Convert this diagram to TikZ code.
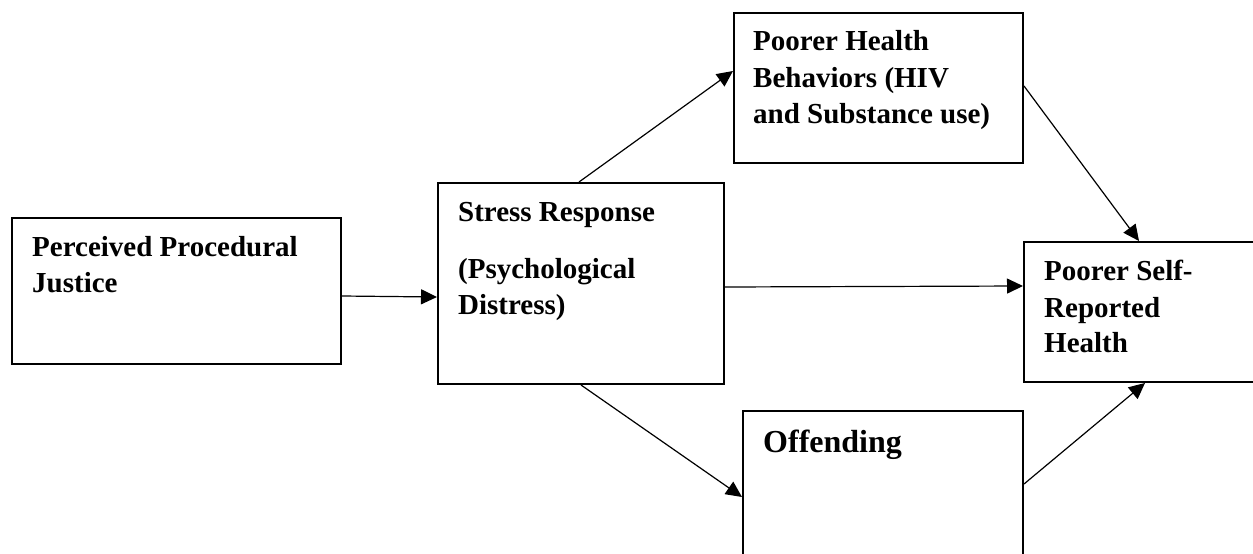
\documentclass[tikz,border=0pt]{standalone}
\usepackage{fontspec}
\setmainfont{Liberation Serif}
\usetikzlibrary{arrows.meta,calc}
\tikzset{
  boxnode/.style={draw=black, line width=2pt, inner sep=0pt, rectangle},
  txt/.style={anchor=base west, inner sep=0pt, font=\fontsize{29}{35}\selectfont\bfseries},
  bigtxt/.style={anchor=base west, inner sep=0pt, font=\fontsize{32}{38}\selectfont\bfseries},
  arr/.style={line width=1.2pt, -{Triangle[length=16pt,width=15pt]}}
}
\begin{document}
\begin{tikzpicture}[x=1pt,y=1pt]
\useasboundingbox (0,0) rectangle (1253,-554);
\fill[white] (0,0) rectangle (1253,-554);
% boxes
\node[boxnode, minimum width=329pt, minimum height=146pt] (b1) at (176.5,-291) {};
\node[boxnode, minimum width=286pt, minimum height=201pt] (b2) at (581,-283.5) {};
\node[boxnode, minimum width=289pt, minimum height=150pt] (b3) at (878.5,-88) {};
\node[boxnode, minimum width=238pt, minimum height=140pt] (b4) at (1143,-312) {};
\node[boxnode, minimum width=280pt, minimum height=159pt] (b5) at (883,-490.5) {};
% texts
\node[txt] (t1a) at (32,-256) {Perceived Procedural};
\node[txt] (t1b) at (32,-292) {Justice};
\node[txt] (t2a) at (458,-221) {Stress Response};
\node[txt] (t2b) at (458,-278) {(Psychological};
\node[txt] (t2c) at (458,-314) {Distress)};
\node[txt] (t3a) at (753,-50) {Poorer Health};
\node[txt] (t3b) at (753,-87) {Behaviors (HIV};
\node[txt] (t3c) at (753,-123) {and Substance use)};
\node[txt] (t4a) at (1044,-280) {Poorer Self-};
\node[txt] (t4b) at (1044,-317) {Reported};
\node[txt] (t4c) at (1044,-352) {Health};
\node[bigtxt] (t5a) at (763,-452) {Offending};
% connectors
\draw[arr] ([yshift=-5pt]b1.east) -- ([yshift=-13.5pt]b2.west);
\draw[arr] ([xshift=142pt]b2.north west) -- ([yshift=-59pt]b3.north west);
\draw[arr] ([xshift=144pt]b2.south west) -- ([yshift=-87pt]b5.north west);
\draw[arr] ([yshift=-3.5pt]b2.east) -- ([yshift=26pt]b4.west);
\draw[arr] ([yshift=-74pt]b3.north east) -- ([xshift=116pt]b4.north west);
\draw[arr] ([yshift=-74pt]b5.north east) -- ([xshift=122pt]b4.south west);
\end{tikzpicture}
\end{document}
